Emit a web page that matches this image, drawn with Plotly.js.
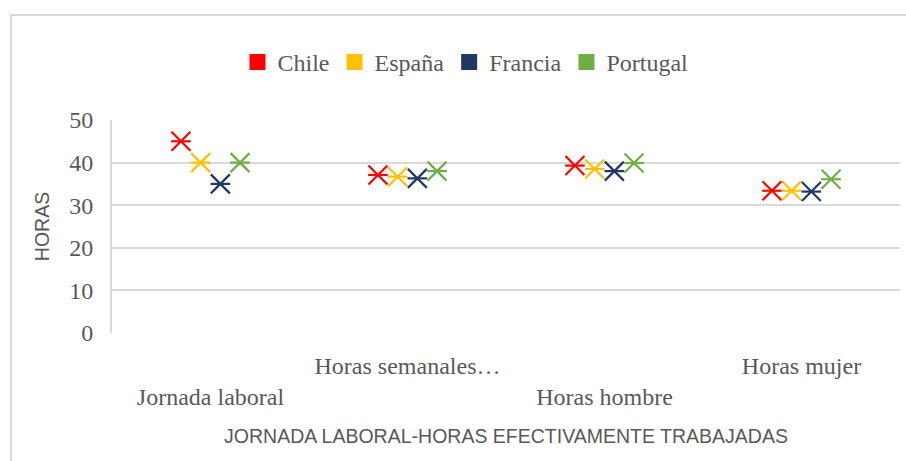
<!DOCTYPE html>
<html>
<head>
<meta charset="utf-8">
<script src="https://cdn.plot.ly/plotly-3.0.1.min.js"></script>
<style>
html,body{margin:0;padding:0;background:#fff;}
#wrap{position:relative;width:906px;height:461px;overflow:hidden;}
#frame{position:absolute;left:10px;top:14px;width:1000px;height:1000px;border-left:2px solid #d9d9d9;border-top:2px solid #d9d9d9;pointer-events:none;}
#chart{position:absolute;left:0;top:0;width:906px;height:461px;}
</style>
</head>
<body>
<div id="wrap"><div id="chart"></div><div id="frame"></div></div>
<script>
const categories = ["Jornada laboral", "Horas semanales…", "Horas hombre", "Horas mujer"];
const seriesNames = ["Chile", "España", "Francia", "Portugal"];
const chile    = [45, 37.1, 39.3, 33.4];
const espana   = [40, 36.7, 38.5, 33.4];
const francia  = [35, 36.3, 38.0, 33.2];
const portugal = [40, 38.0, 39.9, 36.1];
const colors = ["#FF0000", "#FFC000", "#1F3864", "#70AD47"];
const yTicks = [0, 10, 20, 30, 40, 50];

const SERIF = '"Liberation Serif", "Times New Roman", serif';
const SANS = '"Liberation Sans", Arial, sans-serif';

const seriesValues = [chile, espana, francia, portugal];
const catIdx = categories.map((c, i) => i);
const traces = [];
seriesValues.forEach((vals, s) => {
  const off = (s - 1.5) * 0.1;
  const xs = catIdx.map(i => i + off);
  traces.push({
    type: "scatter", mode: "markers", x: xs, y: vals, name: seriesNames[s],
    showlegend: false, hoverinfo: "skip",
    marker: {symbol: "x-thin-open", size: 19, color: colors[s], line: {color: colors[s], width: 2.2}}
  });
  traces.push({
    type: "scatter", mode: "markers", x: xs, y: vals, name: seriesNames[s],
    showlegend: false, hoverinfo: "skip",
    marker: {symbol: "line-ew-open", size: 14, color: colors[s], line: {color: colors[s], width: 2.2}}
  });
});
seriesNames.forEach((n, s) => {
  traces.push({
    type: "scatter", mode: "markers", x: [null], y: [null], name: n,
    marker: {symbol: "square", size: 20, color: colors[s]}
  });
});

const tickText = categories.map((c, i) => (i % 2 === 0 ? "<br>" + c : c));

const layout = {
  width: 906, height: 461,
  margin: {l: 112, r: 6, t: 120, b: 128},
  paper_bgcolor: "#ffffff", plot_bgcolor: "#ffffff",
  font: {family: SERIF, size: 24, color: "#595959"},
  showlegend: true,
  legend: {orientation: "h", x: 0.4486, xanchor: "center", y: 1.27, yanchor: "middle",
           font: {family: SERIF, size: 24, color: "#595959"}},
  xaxis: {
    range: [-0.5, 3.5], tickvals: catIdx, ticktext: tickText,
    showgrid: false, zeroline: false, showline: false,
    ticks: "outside", ticklen: 11, tickcolor: "rgba(0,0,0,0)",
    tickfont: {family: SERIF, size: 24, color: "#595959"},
    title: {text: "JORNADA LABORAL-HORAS EFECTIVAMENTE TRABAJADAS",
            font: {family: SANS, size: 19.5, color: "#595959"}, standoff: 20}
  },
  yaxis: {
    range: [0, 50], tickvals: yTicks, ticktext: yTicks.map(String),
    showgrid: true, gridcolor: "#d9d9d9", gridwidth: 2,
    zeroline: false, showline: true, linecolor: "#d9d9d9", linewidth: 2,
    ticks: "outside", ticklen: 12, tickcolor: "rgba(0,0,0,0)",
    tickfont: {family: SERIF, size: 24, color: "#595959"},
    title: {text: "HORAS", font: {family: SANS, size: 19.5, color: "#595959"}, standoff: 14}
  }
};
Plotly.newPlot("chart", traces, layout, {displayModeBar: false, staticPlot: true});
</script>
</body>
</html>
